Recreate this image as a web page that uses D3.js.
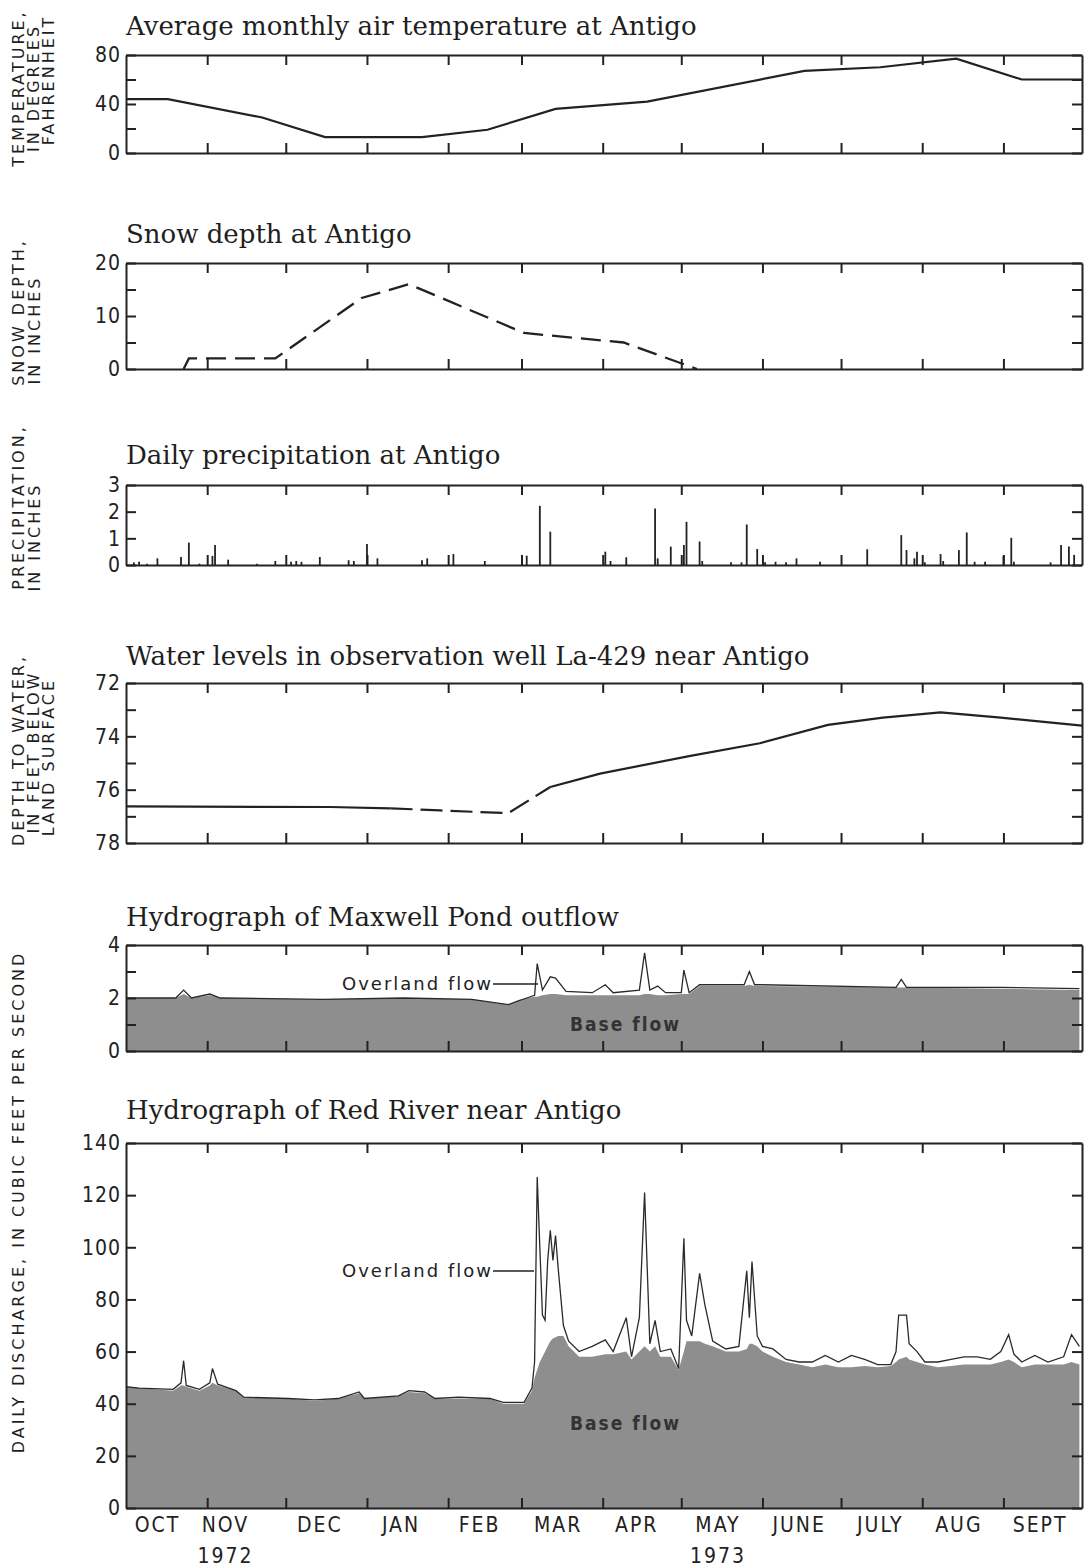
<!DOCTYPE html>
<html>
<head>
<meta charset="utf-8">
<script src="https://cdn.jsdelivr.net/npm/d3@7"></script>
<style>
  body { margin: 0; background: #fff; }
  .title { font-family: "DejaVu Serif", serif; font-size: 26px; fill: #1e1e1e; }
  .tick text { font-family: "Liberation Sans Narrow", "DejaVu Sans Condensed", sans-serif; font-size: 21px; fill: #222; letter-spacing: 1px; }
  .ytitle { font-family: "DejaVu Sans", sans-serif; font-size: 16px; fill: #1e1e1e; letter-spacing: 3px; }
  .month { font-family: "Liberation Sans Narrow", "DejaVu Sans Condensed", sans-serif; font-size: 21px; fill: #222; letter-spacing: 2px; }
  .flowlab { font-family: "DejaVu Sans", sans-serif; font-size: 18px; fill: #222; letter-spacing: 2px; }
  .baselab { font-family: "DejaVu Sans Condensed", "DejaVu Sans", sans-serif; font-size: 19px; font-weight: bold; fill: #333; letter-spacing: 2px; }
</style>
</head>
<body>
<svg id="chart" width="1085" height="1567"></svg>
<script>
const parse = d3.timeParse("%Y-%m-%d");

// ---- data (water year Oct 1972 - Sept 1973) ----
const tempDates = ["1972-10-01","1972-10-17","1972-11-22","1972-12-16","1973-01-22","1973-02-16","1973-03-14","1973-04-18","1973-06-17","1973-07-16","1973-08-14","1973-09-08","1973-10-01"];
const tempValues = [44, 44, 29, 13, 13, 19, 36, 42, 67, 70, 77, 60, 60];

const snowDates = ["1972-10-23","1972-10-25","1972-11-27","1972-12-30","1973-01-17","1973-03-02","1973-04-09","1973-05-07"];
const snowValues = [0, 2, 2, 13.4, 16, 6.8, 5, 0];

const precipDates = ["1972-10-04","1972-10-06","1972-10-09","1972-10-13","1972-10-22","1972-10-25","1972-10-29","1972-11-03","1972-11-04","1972-11-09","1972-11-20","1972-11-27","1972-12-03","1972-12-05","1972-12-07","1972-12-14","1972-12-25","1972-12-27","1973-01-01","1973-01-05","1973-01-22","1973-01-24","1973-02-03","1973-02-15","1973-03-03","1973-03-08","1973-03-12","1973-04-02","1973-04-04","1973-04-10","1973-04-21","1973-04-22","1973-04-27","1973-05-02","1973-05-03","1973-05-08","1973-05-09","1973-05-20","1973-05-24","1973-05-26","1973-05-30","1973-06-02","1973-06-06","1973-06-10","1973-06-14","1973-06-23","1973-07-11","1973-07-24","1973-07-26","1973-07-29","1973-07-30","1973-08-02","1973-08-08","1973-08-09","1973-08-15","1973-08-18","1973-08-21","1973-08-25","1973-09-01","1973-09-04","1973-09-05","1973-09-19","1973-09-23","1973-09-26","1973-09-28"];
const precipValues = [0.1,0.12,0.05,0.25,0.3,0.84,0.05,0.34,0.75,0.2,0.05,0.15,0.12,0.15,0.12,0.3,0.18,0.15,0.79,0.25,0.18,0.25,0.41,0.15,0.35,2.22,1.25,0.5,0.15,0.29,2.12,0.25,0.69,0.75,1.62,0.88,0.15,0.1,0.1,1.52,0.6,0.1,0.12,0.1,0.25,0.12,0.59,1.12,0.56,0.25,0.5,0.1,0.41,0.15,0.56,1.22,0.12,0.12,0.34,1.02,0.12,0.1,0.75,0.69,0.38];

const wellDates = ["1972-10-01","1972-12-18","1973-01-10","1973-01-29","1973-02-24","1973-03-12","1973-03-31","1973-05-04","1973-05-31","1973-06-26","1973-07-17","1973-08-08","1973-08-31","1973-10-01"];
const wellDepth = [76.63, 76.65, 76.7, 76.78, 76.88, 75.9, 75.4, 74.74, 74.26, 73.57, 73.3, 73.1, 73.3, 73.6];
const wellDashedFrom = "1973-01-10", wellDashedTo = "1973-03-12";

const mpDates = ["1972-10-01","1972-10-20","1972-10-23","1972-10-26","1972-11-02","1972-11-06","1972-12-15","1973-01-15","1973-02-10","1973-02-24","1973-02-28","1973-03-03","1973-03-06","1973-03-07","1973-03-09","1973-03-12","1973-03-14","1973-03-18","1973-03-28","1973-04-02","1973-04-05","1973-04-15","1973-04-17","1973-04-19","1973-04-22","1973-04-25","1973-05-01","1973-05-02","1973-05-04","1973-05-08","1973-05-25","1973-05-27","1973-05-29","1973-06-01","1973-07-22","1973-07-24","1973-07-26","1973-08-31","1973-09-30"];
const mpBase  = [2.0,2.0,2.15,2.0,2.1,2.0,1.95,2.0,1.95,1.75,1.9,2.0,2.05,2.05,2.1,2.15,2.15,2.1,2.1,2.1,2.1,2.1,2.15,2.15,2.1,2.1,2.15,2.15,2.15,2.45,2.45,2.5,2.45,2.45,2.4,2.4,2.4,2.35,2.3];
const mpTotal = [2.0,2.0,2.3,2.0,2.15,2.0,1.95,2.0,1.95,1.75,1.9,2.0,2.1,3.3,2.3,2.8,2.75,2.25,2.2,2.5,2.2,2.3,3.7,2.3,2.45,2.2,2.2,3.05,2.2,2.5,2.5,3.0,2.5,2.5,2.4,2.7,2.4,2.4,2.35];

const rrDates = [
  "1972-10-01","1972-10-06","1972-10-19","1972-10-22","1972-10-23","1972-10-24","1972-10-29","1972-11-02","1972-11-03","1972-11-05",
  "1972-11-12","1972-11-15","1972-12-02","1972-12-12","1972-12-21","1972-12-29","1972-12-31","1973-01-13","1973-01-17","1973-01-23",
  "1973-01-27","1973-02-05","1973-02-17","1973-02-22","1973-03-02","1973-03-05","1973-03-06","1973-03-07","1973-03-08","1973-03-09",
  "1973-03-10","1973-03-11","1973-03-12","1973-03-13","1973-03-14","1973-03-15","1973-03-17","1973-03-19","1973-03-23","1973-03-28",
  "1973-04-02","1973-04-05","1973-04-10","1973-04-12","1973-04-15","1973-04-17","1973-04-19","1973-04-21","1973-04-23","1973-04-27",
  "1973-04-30","1973-05-02","1973-05-03","1973-05-05","1973-05-08","1973-05-10","1973-05-13","1973-05-18","1973-05-23","1973-05-26",
  "1973-05-27","1973-05-28","1973-05-30","1973-06-01","1973-06-05","1973-06-10","1973-06-15","1973-06-20","1973-06-25","1973-06-30",
  "1973-07-05","1973-07-10","1973-07-15","1973-07-20","1973-07-22","1973-07-23","1973-07-26","1973-07-27","1973-07-30","1973-08-02",
  "1973-08-07","1973-08-12","1973-08-17","1973-08-22","1973-08-27","1973-08-31","1973-09-03","1973-09-05","1973-09-08","1973-09-13",
  "1973-09-18","1973-09-24","1973-09-27","1973-09-30"];
const rrBase = [
  46.5,46,45,47,47,46.5,45,47,48,47,
  45,42.5,42,41,42,44,42,43,44.5,44,
  42,42,42,40,40,45,50,53,56,58,
  60,62,64,65,65.5,66,66,62,58,58,
  59,59,60,57,60,62,60,62,58,58,
  53,60,64,64,64,63,62,60,60,61,
  63,63,62,60,58,56,55,54,55,54,
  54,54.5,54,54.5,56,57,58,57,56,55,
  54,54.5,55,55,55,56,57,56,54,55,
  55,55,56,55];
const rrTotal = [
  46.5,46,45.5,48,56.5,47,45.5,48,53.5,47.5,
  45,42.5,42,41.5,42,44.5,42,43,45,44.5,
  42,42.5,42,40.5,40.5,46,56,127,100,74,
  72,95,106.5,95,104.5,92,70,64,60,62,
  64.5,60,73,58,73,121,63,72,60,61,
  53.5,103.5,72,66,90,78,64,61,62,91,
  73,94.5,66,62,61,57,56,56,58.5,56,
  58.5,57,55,55,60,74,74,63,60,56,
  56,57,58,58,57,60,66.5,59,56,58.5,
  56,58,66.5,62];

const monthLabels = ["OCT","NOV","DEC","JAN","FEB","MAR","APR","MAY","JUNE","JULY","AUG","SEPT"];
const monthLabelDates = ["1972-10-13","1972-11-08","1972-12-14","1973-01-14","1973-02-13","1973-03-15","1973-04-14","1973-05-15","1973-06-15","1973-07-16","1973-08-15","1973-09-15"];
const yearLabels = ["1972","1973"];
const yearLabelDates = ["1972-11-08","1973-05-15"];

// ---- layout ----
const svg = d3.select("#chart");
const x = d3.scaleTime().domain([parse("1972-10-01"), parse("1973-10-01")]).range([126, 1082]);
const monthTicks = d3.timeMonth.range(parse("1972-11-01"), parse("1973-10-01"));
const ink = "#222";

function panel(cfg) {
  const y = d3.scaleLinear().domain(cfg.domain).range([cfg.bottom, cfg.top]);
  const g = svg.append("g");
  svg.append("text").attr("class", "title").attr("x", 126).attr("y", cfg.titleY).text(cfg.title);
  return { y, g };
}

function frame(p, cfg) {
  const g = svg.append("g");
  const fmt = d => cfg.labels.includes(d) ? d : "";
  g.append("g").attr("transform", `translate(0,${cfg.top})`)
    .call(d3.axisTop(x).tickValues(monthTicks).tickSize(-10).tickSizeOuter(0).tickFormat(""));
  g.append("g").attr("transform", `translate(0,${cfg.bottom})`)
    .call(d3.axisBottom(x).tickValues(monthTicks).tickSize(-10).tickSizeOuter(0).tickFormat(""));
  g.append("g").attr("transform", `translate(${x.range()[0]},0)`)
    .call(d3.axisLeft(p.y).tickValues(cfg.ticks).tickSize(-10).tickSizeOuter(0).tickPadding(5).tickFormat(fmt));
  g.append("g").attr("transform", `translate(${x.range()[1]},0)`)
    .call(d3.axisRight(p.y).tickValues(cfg.ticks).tickSize(-10).tickSizeOuter(0).tickFormat(""));
  g.selectAll(".domain").attr("stroke", ink).attr("stroke-width", 2);
  g.selectAll(".tick line").attr("stroke", ink).attr("stroke-width", 2);
}

function yTitle(lines) {
  lines.forEach(l => {
    svg.append("text").attr("class", "ytitle")
      .attr("transform", `translate(${l.x},${l.cy}) rotate(-90)`)
      .attr("text-anchor", "middle").attr("dy", "0.35em")
      .text(l.text);
  });
}

// 1. temperature
const c1 = { title: "Average monthly air temperature at Antigo", titleY: 35, top: 55, bottom: 153, domain: [0, 80], ticks: [0, 20, 40, 60, 80], labels: [0, 40, 80] };
const p1 = panel(c1);
p1.g.append("path")
  .datum(tempDates.map((d, i) => [parse(d), tempValues[i]]))
  .attr("fill", "none").attr("stroke", ink).attr("stroke-width", 2.2)
  .attr("d", d3.line().x(d => x(d[0])).y(d => p1.y(d[1])));
frame(p1, c1);
yTitle([{ x: 18, cy: 88, text: "TEMPERATURE," }, { x: 33, cy: 88, text: "IN  DEGREES" }, { x: 48, cy: 80, text: "FAHRENHEIT" }]);

// 2. snow depth
const c2 = { title: "Snow depth at Antigo", titleY: 243, top: 263, bottom: 369, domain: [0, 20], ticks: [0, 5, 10, 15, 20], labels: [0, 10, 20] };
const p2 = panel(c2);
p2.g.append("path")
  .datum(snowDates.map((d, i) => [parse(d), snowValues[i]]))
  .attr("fill", "none").attr("stroke", ink).attr("stroke-width", 2.3)
  .attr("stroke-dasharray", "20,9")
  .attr("d", d3.line().x(d => x(d[0])).y(d => p2.y(d[1])));
frame(p2, c2);
yTitle([{ x: 18, cy: 312, text: "SNOW DEPTH," }, { x: 34, cy: 330, text: "IN INCHES" }]);

// 3. precipitation
const c3 = { title: "Daily precipitation at Antigo", titleY: 464, top: 485, bottom: 565, domain: [0, 3], ticks: [0, 1, 2, 3], labels: [0, 1, 2, 3] };
const p3 = panel(c3);
p3.g.selectAll("line.bar")
  .data(precipDates.map((d, i) => [parse(d), precipValues[i]]))
  .join("line").attr("class", "bar")
  .attr("x1", d => x(d[0])).attr("x2", d => x(d[0]))
  .attr("y1", p3.y(0)).attr("y2", d => p3.y(d[1]))
  .attr("stroke", ink).attr("stroke-width", 1.8);
frame(p3, c3);
yTitle([{ x: 18, cy: 507, text: "PRECIPITATION," }, { x: 34, cy: 537, text: "IN INCHES" }]);

// 4. well water levels (depth below land surface, increasing downward)
const c4 = { title: "Water levels in observation well La-429 near Antigo", titleY: 665, top: 683, bottom: 843, domain: [78, 72], ticks: [72, 73, 74, 75, 76, 77, 78], labels: [72, 74, 76, 78] };
const p4 = panel(c4);
const wellPts = wellDates.map((d, i) => [parse(d), wellDepth[i]]);
const wellLine = d3.line().x(d => x(d[0])).y(d => p4.y(d[1]));
const dFrom = parse(wellDashedFrom), dTo = parse(wellDashedTo);
p4.g.append("path").datum(wellPts.filter(d => d[0] <= dFrom))
  .attr("fill", "none").attr("stroke", ink).attr("stroke-width", 2.2).attr("d", wellLine);
p4.g.append("path").datum(wellPts.filter(d => d[0] >= dFrom && d[0] <= dTo))
  .attr("fill", "none").attr("stroke", ink).attr("stroke-width", 2.2)
  .attr("stroke-dasharray", "22,8").attr("d", wellLine);
p4.g.append("path").datum(wellPts.filter(d => d[0] >= dTo))
  .attr("fill", "none").attr("stroke", ink).attr("stroke-width", 2.2).attr("d", wellLine);
frame(p4, c4);
yTitle([{ x: 18, cy: 750, text: "DEPTH TO WATER," }, { x: 33, cy: 752, text: "IN  FEET  BELOW" }, { x: 48, cy: 757, text: "LAND  SURFACE" }]);

// hydrograph helper
function hydro(p, dates, base, total) {
  const pts = dates.map((d, i) => ({ t: parse(d), b: base[i], q: total[i] }));
  p.g.append("path").datum(pts)
    .attr("fill", "#8e8e8e")
    .attr("d", d3.area().x(d => x(d.t)).y0(p.y(0)).y1(d => p.y(d.b)));
  p.g.append("path").datum(pts)
    .attr("fill", "none").attr("stroke", "#2a2a2a").attr("stroke-width", 1.3)
    .attr("d", d3.line().x(d => x(d.t)).y(d => p.y(d.q)));
}

function flowLabels(overX, overY, dashTo, baseX, baseY) {
  const t = svg.append("text").attr("class", "flowlab").attr("x", overX).attr("y", overY).text("Overland flow");
  const end = overX + t.node().getComputedTextLength();
  svg.append("line").attr("x1", end).attr("x2", dashTo).attr("y1", overY - 6).attr("y2", overY - 6)
    .attr("stroke", ink).attr("stroke-width", 1.5);
  svg.append("text").attr("class", "baselab").attr("x", baseX).attr("y", baseY).text("Base flow");
}

// 5. Maxwell Pond
const c5 = { title: "Hydrograph of Maxwell Pond outflow", titleY: 926, top: 945, bottom: 1051, domain: [0, 4], ticks: [0, 1, 2, 3, 4], labels: [0, 2, 4] };
const p5 = panel(c5);
hydro(p5, mpDates, mpBase, mpTotal);
frame(p5, c5);
flowLabels(342, 990, 538, 570, 1031);

// 6. Red River
const c6 = { title: "Hydrograph of Red River near Antigo", titleY: 1119, top: 1143, bottom: 1508, domain: [0, 140], ticks: d3.range(0, 141, 20), labels: d3.range(0, 141, 20) };
const p6 = panel(c6);
hydro(p6, rrDates, rrBase, rrTotal);
frame(p6, c6);
flowLabels(342, 1277, 534, 570, 1430);

yTitle([{ x: 18, cy: 1202, text: "DAILY DISCHARGE, IN CUBIC FEET PER SECOND" }]);

// month and year labels
svg.selectAll("text.month").data(monthLabels).join("text").attr("class", "month")
  .attr("x", (d, i) => x(parse(monthLabelDates[i]))).attr("y", 1532)
  .attr("text-anchor", "middle").text(d => d);
svg.selectAll("text.year").data(yearLabels).join("text").attr("class", "month year")
  .attr("x", (d, i) => x(parse(yearLabelDates[i]))).attr("y", 1563)
  .attr("text-anchor", "middle").text(d => d);
</script>
</body>
</html>
